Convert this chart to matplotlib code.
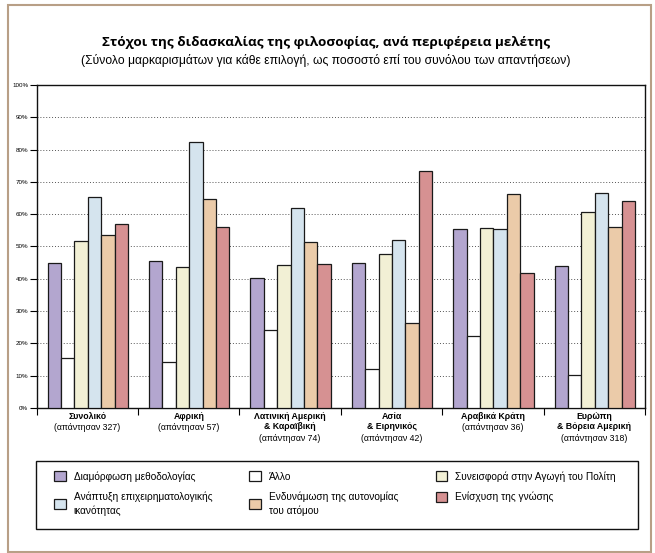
import numpy as np
import matplotlib.pyplot as plt
from matplotlib.patches import Rectangle

# Data (percent of respondents ticking each option)
regions = ["Συνολικό", "Αφρική", "Λατινική Αμερική\n& Καραϊβική", "Ασία\n& Ειρηνικός",
           "Αραβικά Κράτη", "Ευρώπη\n& Βόρεια Αμερική"]
respondents = [327, 57, 74, 42, 36, 318]

series_names = ["Διαμόρφωση μεθοδολογίας", "Άλλο", "Συνεισφορά στην Αγωγή του Πολίτη",
                "Ανάπτυξη επιχειρηματολογικής\nικανότητας", "Ενδυνάμωση της αυτονομίας\nτου ατόμου",
                "Ενίσχυση της γνώσης"]
methodology = [44.8, 45.4, 40.4, 45.0, 55.5, 44.0]
other = [15.4, 14.1, 24.1, 12.0, 22.2, 10.1]
citizenship = [51.7, 43.8, 44.3, 47.6, 55.6, 60.7]
argumentation = [65.3, 82.2, 62.0, 51.9, 55.3, 66.7]
autonomy = [53.5, 64.8, 51.3, 26.2, 66.3, 55.9]
knowledge = [57.0, 56.0, 44.6, 73.5, 41.7, 64.2]
series = [methodology, other, citizenship, argumentation, autonomy, knowledge]
colors = ["#b3a6cf", "#ffffff", "#f2f0d5", "#d5e4ee", "#ebcba9", "#d69192"]

FONT = ["Liberation Sans Narrow", "Liberation Sans", "DejaVu Sans"]
plt.rcParams["font.family"] = FONT

W, H = 655, 553
fig = plt.figure(figsize=(W / 100, H / 100), dpi=100)
ax = fig.add_axes([0.056, 0.2622, 0.9287, 0.5841])

x = np.arange(len(regions))
bw = 0.132
for j, (vals, col) in enumerate(zip(series, colors)):
    ax.bar(x + (j - 2.5) * bw + 0.005, vals, width=bw, color=col, edgecolor="#1a1a1a",
           linewidth=0.9, zorder=3, label=series_names[j])

ax.set_xlim(-0.5, len(regions) - 0.5)
ax.set_ylim(0, 100)
ax.set_yticks(np.arange(0, 101, 10))
ax.set_yticklabels([f"{v}%" for v in range(0, 101, 10)], fontsize=4.5)
ax.tick_params(axis="y", length=5, width=0.8, pad=1)
for v in range(10, 100, 10):
    ax.axhline(v, color="#555555", linestyle=(0, (1, 2)), linewidth=0.7, zorder=1)

ax.set_xticks(x)
ax.set_xticklabels(regions, fontsize=6.3, fontweight="bold", linespacing=1.05)
ax.tick_params(axis="x", which="major", length=0, pad=3)
ax.set_xticks(np.arange(-0.5, len(regions), 1), minor=True)
ax.tick_params(axis="x", which="minor", length=5, width=0.8, direction="out")

for i, (name, n) in enumerate(zip(regions, respondents)):
    lines = name.count("\n") + 1
    ax.annotate(f"(απάντησαν {n})", xy=(i, 0), xycoords=("data", "axes fraction"),
                xytext=(0, -4 - 11 * lines), textcoords="offset pixels",
                ha="center", va="top", fontsize=6.3)

for s in ax.spines.values():
    s.set_linewidth(1.0)
    s.set_color("#111111")

fig.text(0.498, 0.924, "Στόχοι της διδασκαλίας της φιλοσοφίας, ανά περιφέρεια μελέτης",
         ha="center", va="center", fontsize=9.7, fontweight="bold", family=["Open Sans", "DejaVu Sans"])
fig.text(0.498, 0.891, "(Σύνολο μαρκαρισμάτων για κάθε επιλογή, ως ποσοστό επί του συνόλου των απαντήσεων)",
         ha="center", va="center", fontsize=8.7)

# legend box
fig.patches.append(Rectangle((36 / W, 1 - 529 / H), 602 / W, 68 / H, transform=fig.transFigure,
                             fill=False, edgecolor="#111111", linewidth=1.0))
handles, labels = ax.get_legend_handles_labels()
order = [0, 3, 1, 4, 2, 5]
leg = fig.legend([handles[k] for k in order], [labels[k] for k in order], ncol=3,
                 loc="upper left", bbox_to_anchor=(54 / W, 1 - 520 / H, 562 / W, 49 / H),
                 mode="expand", fontsize=7.3, frameon=False, borderpad=0,
                 handlelength=1.15, handleheight=1.15, handletextpad=0.8, labelspacing=1.0,
                 borderaxespad=0, columnspacing=1.0)
for t in leg.get_texts():
    t.set_linespacing(1.35)

fig.patches.append(Rectangle((7.7 / W, 1 - 551.7 / H), (651 - 7.7) / W, (551.7 - 5) / H,
                             transform=fig.transFigure, fill=False, edgecolor="#b89f86", linewidth=1.5))

fig.savefig("out.png", dpi=100)
